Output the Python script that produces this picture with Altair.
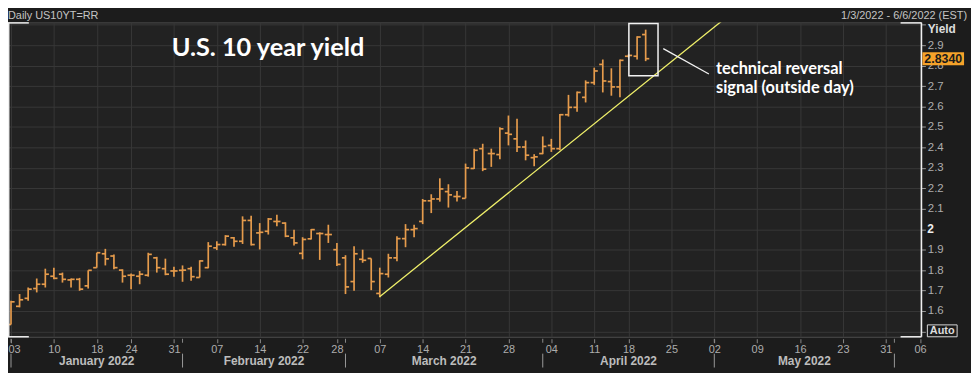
import json
import altair as alt
import pandas as pd

# ---------------- data ----------------
dates = [
    "2022-01-03", "2022-01-04", "2022-01-05", "2022-01-06", "2022-01-07",
    "2022-01-10", "2022-01-11", "2022-01-12", "2022-01-13", "2022-01-14",
    "2022-01-18", "2022-01-19", "2022-01-20", "2022-01-21", "2022-01-24",
    "2022-01-25", "2022-01-26", "2022-01-27", "2022-01-28", "2022-01-31",
    "2022-02-01", "2022-02-02", "2022-02-03", "2022-02-04", "2022-02-07",
    "2022-02-08", "2022-02-09", "2022-02-10", "2022-02-11", "2022-02-14",
    "2022-02-15", "2022-02-16", "2022-02-17", "2022-02-18", "2022-02-22",
    "2022-02-23", "2022-02-24", "2022-02-25", "2022-02-28", "2022-03-01",
    "2022-03-02", "2022-03-03", "2022-03-04", "2022-03-07", "2022-03-08",
    "2022-03-09", "2022-03-10", "2022-03-11", "2022-03-14", "2022-03-15",
    "2022-03-16", "2022-03-17", "2022-03-18", "2022-03-21", "2022-03-22",
    "2022-03-23", "2022-03-24", "2022-03-25", "2022-03-28", "2022-03-29",
    "2022-03-30", "2022-03-31", "2022-04-01", "2022-04-04", "2022-04-05",
    "2022-04-06", "2022-04-07", "2022-04-08", "2022-04-11", "2022-04-12",
    "2022-04-13", "2022-04-14", "2022-04-18", "2022-04-19", "2022-04-20",
]
opens = [
    1.534, 1.623, 1.662, 1.710, 1.731, 1.770, 1.780, 1.752, 1.755, 1.723,
    1.812, 1.880, 1.869, 1.800, 1.775, 1.770, 1.775, 1.860, 1.807, 1.796,
    1.799, 1.807, 1.764, 1.812, 1.909, 1.925, 1.958, 1.941, 2.043, 1.982,
    1.990, 2.038, 2.030, 1.958, 1.882, 1.953, 1.979, 1.974, 1.900, 1.860,
    1.744, 1.853, 1.857, 1.686, 1.780, 1.860, 1.954, 1.998, 2.038, 2.139,
    2.148, 2.184, 2.160, 2.151, 2.297, 2.394, 2.370, 2.365, 2.470, 2.442,
    2.402, 2.350, 2.370, 2.410, 2.394, 2.560, 2.596, 2.645, 2.717, 2.806,
    2.722, 2.696, 2.846, 2.846, 2.952,
]
highs = [
    1.650, 1.683, 1.715, 1.759, 1.807, 1.812, 1.788, 1.759, 1.762, 1.799,
    1.885, 1.904, 1.877, 1.804, 1.784, 1.796, 1.885, 1.865, 1.856, 1.817,
    1.823, 1.817, 1.848, 1.937, 1.941, 1.971, 1.962, 2.063, 2.066, 2.030,
    2.055, 2.071, 2.034, 1.998, 1.961, 2.001, 1.985, 2.022, 1.933, 1.873,
    1.917, 1.900, 1.857, 1.812, 1.880, 1.966, 2.025, 2.022, 2.148, 2.171,
    2.249, 2.220, 2.187, 2.321, 2.394, 2.418, 2.394, 2.499, 2.556, 2.540,
    2.434, 2.367, 2.454, 2.442, 2.564, 2.657, 2.674, 2.728, 2.790, 2.830,
    2.787, 2.830, 2.855, 2.944, 2.976,
]
lows = [
    1.534, 1.618, 1.650, 1.691, 1.715, 1.755, 1.739, 1.715, 1.699, 1.710,
    1.812, 1.823, 1.804, 1.739, 1.707, 1.731, 1.768, 1.788, 1.775, 1.768,
    1.743, 1.748, 1.764, 1.809, 1.898, 1.920, 1.914, 1.928, 1.920, 1.901,
    1.974, 2.014, 1.961, 1.920, 1.853, 1.950, 1.850, 1.933, 1.820, 1.683,
    1.699, 1.836, 1.702, 1.667, 1.764, 1.844, 1.912, 1.961, 2.025, 2.079,
    2.135, 2.106, 2.135, 2.151, 2.294, 2.284, 2.305, 2.342, 2.410, 2.378,
    2.337, 2.308, 2.367, 2.378, 2.386, 2.551, 2.575, 2.620, 2.706, 2.669,
    2.653, 2.645, 2.840, 2.830, 2.822,
]
closes = [
    1.645, 1.655, 1.707, 1.731, 1.780, 1.760, 1.755, 1.755, 1.707, 1.799,
    1.885, 1.855, 1.812, 1.770, 1.775, 1.780, 1.877, 1.812, 1.780, 1.796,
    1.800, 1.768, 1.845, 1.917, 1.925, 1.966, 1.941, 2.043, 1.925, 1.985,
    2.050, 2.038, 1.966, 1.933, 1.950, 1.998, 1.979, 1.974, 1.828, 1.718,
    1.880, 1.848, 1.744, 1.783, 1.860, 1.954, 1.998, 2.003, 2.139, 2.148,
    2.197, 2.168, 2.160, 2.300, 2.386, 2.294, 2.370, 2.491, 2.464, 2.402,
    2.362, 2.354, 2.405, 2.394, 2.560, 2.596, 2.669, 2.717, 2.774, 2.725,
    2.696, 2.826, 2.850, 2.940, 2.834,
]

# x axis: trading-day positions of the day-of-month tick labels
tick_pos = [0, 5, 10, 14, 19, 24, 29, 34, 38, 43, 48, 53, 58, 63, 68, 72, 77,
            82, 87, 92, 97, 102, 106]
tick_labels = ["03", "10", "18", "24", "31", "07", "14", "22", "28", "07", "14",
               "21", "28", "04", "11", "18", "25", "02", "09", "16", "23", "31",
               "06"]
month_names = ["January 2022", "February 2022", "March 2022", "April 2022",
               "May 2022"]
month_starts = [0, 20, 39, 62, 82, 103]
y_ticks = [1.5, 1.6, 1.7, 1.8, 1.9, 2.0, 2.1, 2.2, 2.3, 2.4, 2.5, 2.6, 2.7,
           2.8, 2.9, 3.0]
y_bold_tick = [2.0]

# annotations (in data units: trading-day index, yield)
trend_x = [42.98, 83.4]
trend_y = [1.670, 3.036]
box_x = [72.04, 75.44]
box_y = [2.750, 3.006]
pointer_x = [76.05, 81.37]
pointer_y = [2.883, 2.759]
title_text = ["U.S. 10 year yield"]
title_pos = [18.73, 2.847]
note_lines = ["technical reversal", "signal (outside day)"]
note_x = 82.2
note_y = [2.757, 2.665]

# ---------------- styling ----------------
W, H = 921, 317
BG = "#1c1c1c"
PLOT_BG = "#222222"
GRID = "#383838"
BAR = "#e59b4c"
TREND = "#f0f06a"
AXIS_TXT = "#adadad"
FONT = "Liberation Sans"

xscale = alt.Scale(domain=[-0.35, 106.15], nice=False, zero=False)
yscale = alt.Scale(domain=[1.474, 3.0115], nice=False, zero=False)

label_expr = "{}[indexof({}, datum.value)]".format(
    json.dumps(tick_labels), json.dumps(tick_pos))

xaxis = alt.Axis(
    values=tick_pos, labelExpr=label_expr, grid=True, gridColor=GRID,
    gridWidth=1, domain=False, ticks=True, tickSize=4, tickColor="#8a8a8a",
    offset=2, labelPadding=1, labelColor=AXIS_TXT, labelFont=FONT,
    labelFontSize=11, labelOverlap=False, labelFlush=False, title=None,
    labelAlign={"condition": {"test": "datum.value == 0", "value": "left"},
                "value": "center"},
    labelOffset={"condition": {"test": "datum.value == 0", "value": -3},
                 "value": 0},
)
yaxis = alt.Axis(
    orient="right", values=y_ticks, grid=True, gridColor=GRID, gridWidth=1,
    domain=False, tickSize=4, tickColor="#9a9a9a",
    labelPadding=2, labelFont=FONT, labelFontSize=11.5,
    labelExpr="datum.value < 1.55 || datum.value > 2.95 || datum.value == 2 ? '' : format(datum.value, '.1~f')",
    labelColor=AXIS_TXT, labelBaseline="middle", labelFlush=False,
    title="Yield", titleAngle=0, titleAlign="left", titleBaseline="middle",
    titleX=6, titleY=6, titleFont=FONT, titleFontSize=12,
    titleFontWeight="bold", titleColor="#dddddd",
)

def X(field):
    return alt.X(field, scale=xscale, axis=xaxis)

def Y(field):
    return alt.Y(field, scale=yscale, axis=yaxis)

df = pd.DataFrame({"i": list(range(len(dates))), "date": dates, "open": opens,
                   "high": highs, "low": lows, "close": closes})

# ---------------- OHLC bars ----------------
hl = alt.Chart(df).mark_rule(color=BAR, strokeWidth=1.7).encode(
    x=X("i:Q"), y=Y("low:Q"), y2="high:Q",
)
op = alt.Chart(df).transform_calculate(xo="datum.i - 0.42").mark_rule(
    color=BAR, strokeWidth=1.7).encode(x=X("xo:Q"), x2="i:Q", y=Y("open:Q"))
cl = alt.Chart(df).transform_calculate(xc="datum.i + 0.42").mark_rule(
    color=BAR, strokeWidth=1.7).encode(x=X("i:Q"), x2="xc:Q", y=Y("close:Q"))

# ---------------- trendline and annotation ----------------
tr_df = pd.DataFrame({"x": [trend_x[0]], "x2": [trend_x[1]],
                      "y": [trend_y[0]], "y2": [trend_y[1]]})
trend = alt.Chart(tr_df).mark_rule(color=TREND, strokeWidth=1.3, clip=True).encode(
    x=X("x:Q"), x2="x2:Q", y=Y("y:Q"), y2="y2:Q")
bx_df = pd.DataFrame({"x": [box_x[0]], "x2": [box_x[1]],
                      "y": [box_y[0]], "y2": [box_y[1]]})
box = alt.Chart(bx_df).mark_rect(fillOpacity=0, stroke="#f2f2f2", strokeWidth=1.5).encode(
    x=X("x:Q"), x2="x2:Q", y=Y("y:Q"), y2="y2:Q")
pt_df = pd.DataFrame({"x": [pointer_x[0]], "x2": [pointer_x[1]],
                      "y": [pointer_y[0]], "y2": [pointer_y[1]]})
pointer = alt.Chart(pt_df).mark_rule(color="#f2f2f2", strokeWidth=1.3).encode(
    x=X("x:Q"), x2="x2:Q", y=Y("y:Q"), y2="y2:Q")
ttl_df = pd.DataFrame({"t": title_text, "x": [title_pos[0]], "y": [title_pos[1]]})
title = alt.Chart(ttl_df).mark_text(
    align="left", baseline="alphabetic", font="Lato", fontSize=25.5,
    fontWeight="bold", color="#ffffff").encode(x=X("x:Q"), y=Y("y:Q"), text="t:N")
note_df = pd.DataFrame({"t": note_lines, "x": [note_x] * 2, "y": note_y})
note = alt.Chart(note_df).mark_text(
    align="left", baseline="alphabetic", font="Lato", fontSize=16.5,
    fontWeight="bold", color="#ffffff").encode(x=X("x:Q"), y=Y("y:Q"), text="t:N")

# bold "2" label on the right axis
bold_df = pd.DataFrame({"v": y_bold_tick, "t": ["2"]})
bold_lbl = alt.Chart(bold_df).mark_text(
    align="left", baseline="middle", font=FONT, fontSize=12, fontWeight="bold",
    color="#eeeeee").encode(x=alt.value(W + 6), y=Y("v:Q"), text="t:N")

# ---------------- month row under the day labels ----------------
mdf = pd.DataFrame({"name": month_names,
                    "mid": [(a + b) / 2 for a, b in zip(month_starts[:-1], month_starts[1:])]})
months = alt.Chart(mdf).mark_text(
    font=FONT, fontSize=12, fontWeight="bold", color="#bdbdbd",
    baseline="middle").encode(x=X("mid:Q"), y=alt.value(H + 24), text="name:N")
sdf = pd.DataFrame({"s": month_starts})
seps = alt.Chart(sdf).mark_rule(color="#9a9a9a", strokeWidth=1).encode(
    x=X("s:Q"), y=alt.value(H + 17), y2=alt.value(H + 31))
seps_top = alt.Chart(sdf).mark_rule(color="#8a8a8a", strokeWidth=1).encode(
    x=X("s:Q"), y=alt.value(H + 2), y2=alt.value(H + 6))

# ---------------- frame / chrome ----------------
def seg(x1, x2, y1, y2, color="#f0f0f0", w=1.5):
    return alt.Chart(pd.DataFrame({"a": [0]})).mark_rule(color=color, strokeWidth=w).encode(
        x=alt.value(x1), x2=alt.value(x2), y=alt.value(y1), y2=alt.value(y2))

frame = [
    seg(0.75, 0.75, 0, H), seg(W, W, 0, H),
    seg(0, 21, 0.5, 0.5), seg(W - 21, W, 0.5, 0.5),
    seg(0, 21, H, H), seg(W - 21, W, H, H),
]

hdr_l = alt.Chart(pd.DataFrame({"t": ["Daily US10YT=RR"]})).mark_text(
    align="left", baseline="alphabetic", font=FONT, fontSize=11,
    color="#c4c4c4").encode(x=alt.value(0), y=alt.value(-3), text="t:N")
hdr_r = alt.Chart(pd.DataFrame({"t": ["1/3/2022 - 6/6/2022 (EST)"]})).mark_text(
    align="right", baseline="alphabetic", font=FONT, fontSize=11,
    color="#c4c4c4").encode(x=alt.value(967), y=alt.value(-3), text="t:N")

last = df.tail(1)
last_box = alt.Chart(last).transform_calculate(
    top="datum.close + 0.0315", bot="datum.close - 0.0315").mark_rect(
    color="#f5a22a").encode(
    x=alt.value(922), x2=alt.value(964), y=Y("top:Q"), y2="bot:Q")
last_txt = alt.Chart(last).transform_calculate(
    lab="format(datum.close, '.4f')").mark_text(
    font=FONT, fontSize=12.5, fontWeight="bold", color="#1a1a1a",
    baseline="middle", align="center").encode(
    x=alt.value(943), y=Y("close:Q"), text="lab:N")

auto_box = alt.Chart(pd.DataFrame({"a": [0]})).mark_rect(
    fillOpacity=0, stroke="#d8d8d8", strokeWidth=1).encode(
    x=alt.value(927), x2=alt.value(957), y=alt.value(H - 12), y2=alt.value(H))
auto_txt = alt.Chart(pd.DataFrame({"t": ["Auto"]})).mark_text(
    font=FONT, fontSize=11, fontWeight="bold", color="#dddddd",
    baseline="middle").encode(x=alt.value(942), y=alt.value(H - 5.5), text="t:N")

chart = alt.layer(
    hl, op, cl, trend, box, pointer, title, note, bold_lbl, months, seps,
    seps_top, *frame, hdr_l, hdr_r, last_box, last_txt, auto_box, auto_txt,
).properties(
    width=W, height=H,
    autosize=alt.AutoSizeParams(type="none"),
    padding={"left": 0, "top": 13, "right": 50, "bottom": 35},
    background=BG,
).configure_view(fill=PLOT_BG, stroke="#4d4d4d", strokeWidth=1)

chart.save("out.html", embed_options={"renderer": "svg", "actions": False})
